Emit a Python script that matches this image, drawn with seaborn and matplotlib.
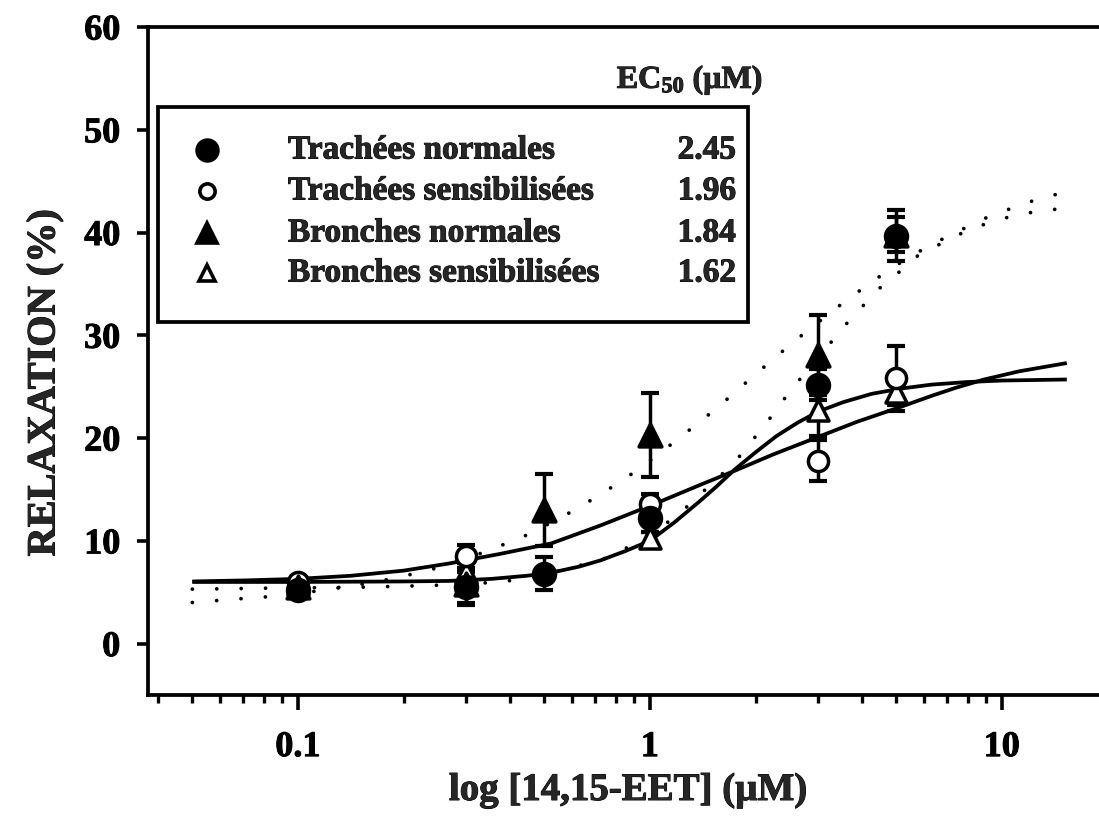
import numpy as np
import pandas as pd
import matplotlib
matplotlib.use("Agg")
import matplotlib.pyplot as plt
import matplotlib.patheffects as pe
from matplotlib.patches import Rectangle
from matplotlib.lines import Line2D
import seaborn as sns

# ---------------- data ----------------
tn_x = [0.1, 0.3, 0.5, 1, 3, 5]
tn_y = [5.2, 5.5, 6.8, 12.2, 25.2, 39.7]
tn_e = [0.4, 1.5, 1.6, 1.3, 1.5, 2.5]

ts_x = [0.1, 0.3, 1, 3, 5]
ts_y = [6.0, 8.5, 13.6, 17.8, 25.8]
ts_e = [0.4, 1.1, 1.0, 2.0, 3.2]

bn_x = [0.1, 0.3, 0.5, 1, 3, 5]
bn_y = [5.5, 5.8, 13.0, 20.3, 28.1, 39.8]
bn_e = [0.5, 2.0, 3.5, 4.1, 3.9, 1.7]

bs_x = [0.1, 0.3, 1, 3, 5]
bs_y = [5.8, 7.0, 10.3, 22.7, 24.5]
bs_e = [0.4, 0.8, 0.6, 2.5, 1.3]

# fitted curves (log10 concentration, % relaxation)
ts_fit_logx = [-1.30, -1.15, -1.00, -0.85, -0.70, -0.57, -0.43, -0.28, -0.14, 0.00, 0.07,
               0.14, 0.24, 0.35, 0.47, 0.59, 0.71, 0.80, 0.87, 0.95, 1.05, 1.185]
ts_fit_y = [6.05, 6.15, 6.3, 6.6, 7.1, 7.8, 8.7, 9.75, 11.5, 13.4, 14.4,
            15.4, 16.8, 18.4, 20.0, 21.6, 23.0, 24.1, 24.9, 25.7, 26.5, 27.3]

bs_fit_logx = [-1.30, -1.00, -0.70, -0.57, -0.45, -0.35, -0.28, -0.20, -0.14, -0.07, 0.00,
               0.07, 0.14, 0.19, 0.24, 0.30, 0.36, 0.42, 0.48, 0.55, 0.63, 0.71, 0.80,
               0.90, 1.00, 1.185]
bs_fit_y = [6.0, 6.0, 6.05, 6.1, 6.3, 6.6, 6.9, 7.5, 8.1, 9.0, 10.0,
            11.8, 13.8, 15.3, 16.9, 18.6, 20.2, 21.5, 22.6, 23.5, 24.3, 24.8, 25.2,
            25.45, 25.6, 25.7]

bn_fit_logx = [-1.30, -1.19, -1.07, -0.95, -0.85, -0.75, -0.63, -0.47, -0.36, -0.25, -0.14,
               -0.03, 0.08, 0.19, 0.30, 0.41, 0.52, 0.63, 0.74, 0.85, 0.96, 1.07, 1.185]
bn_fit_y = [4.0, 4.3, 4.6, 5.1, 5.6, 6.2, 7.1, 8.9, 10.4, 12.3, 14.5,
            17.0, 19.9, 22.9, 26.2, 29.4, 32.4, 35.2, 37.7, 39.7, 41.5, 42.9, 44.0]

tn_fit_logx = [-1.30, -1.07, -0.80, -0.58, -0.42, -0.30, -0.20, -0.14, -0.03, 0.08, 0.13,
               0.24, 0.33, 0.41, 0.46, 0.55, 0.65, 0.71, 0.76, 0.87, 0.98, 1.09, 1.185]
tn_fit_y = [5.3, 5.4, 5.5, 5.7, 6.0, 6.7, 7.6, 8.1, 9.9, 12.5, 14.1,
            17.6, 21.4, 25.1, 27.0, 30.8, 34.5, 36.2, 37.7, 39.7, 41.2, 42.0, 42.4]

labels = ["Trachées normales", "Trachées sensibilisées",
          "Bronches normales", "Bronches sensibilisées"]
ec50 = ["2.45", "1.96", "1.84", "1.62"]

# ---------------- style ----------------
sns.set_theme(style="white")
plt.rcParams["font.family"] = ["Liberation Serif", "DejaVu Serif"]
plt.rcParams["font.weight"] = "bold"
plt.rcParams["mathtext.fontset"] = "custom"
plt.rcParams["mathtext.rm"] = "Liberation Serif:bold"
plt.rcParams["mathtext.bf"] = "Liberation Serif:bold"
plt.rcParams["mathtext.default"] = "bf"

heavy = [pe.withStroke(linewidth=0.7, foreground="black")]

W, H = 1099, 819
fig = plt.figure(figsize=(W / 100, H / 100), dpi=100)
fig.patch.set_facecolor("white")
ax = fig.add_axes([148 / W, 1 - 695 / H, (W - 148) / W, (695 - 27) / H])
ax.set_facecolor("white")

def curve_df(logx, y):
    return pd.DataFrame({"x": 10 ** np.asarray(logx), "y": y})

dotted = (0, (0.01, 6.5))
for lx, ly in [(ts_fit_logx, ts_fit_y), (bs_fit_logx, bs_fit_y)]:
    sns.lineplot(data=curve_df(lx, ly), x="x", y="y", ax=ax, color="black",
                 lw=2.7, sort=False, estimator=None, zorder=3,
                 solid_joinstyle="round", solid_capstyle="butt")
for lx, ly in [(bn_fit_logx, bn_fit_y), (tn_fit_logx, tn_fit_y)]:
    sns.lineplot(data=curve_df(lx, ly), x="x", y="y", ax=ax, color="black",
                 lw=2.7, linestyle=dotted, dash_capstyle="round", sort=False,
                 estimator=None, zorder=3)

# error bars + markers (open symbols drawn first, filled ones on top)
series = [
    (bs_x, bs_y, bs_e, "^", "white", 230),
    (ts_x, ts_y, ts_e, "o", "white", 210),
    (bn_x, bn_y, bn_e, "^", "black", 270),
    (tn_x, tn_y, tn_e, "o", "black", 250),
]
for xs, ys, es, mk, fc, s in series:
    ax.errorbar(xs, ys, yerr=es, fmt="none", ecolor="black", elinewidth=2.5,
                capsize=6.5, capthick=3, zorder=2)
for i, (xs, ys, es, mk, fc, s) in enumerate(series):
    sns.scatterplot(x=xs, y=ys, ax=ax, marker=mk, s=s, facecolor=fc,
                    edgecolor="black", linewidth=2.5, zorder=5 + i)

ax.set_xscale("log")
ax.set_xlim(0.0375, 18.9)
ax.set_ylim(-5, 60)
ax.set_xticks([0.1, 1, 10])
ax.set_xticklabels(["0.1", "1", "10"])
ax.xaxis.set_minor_locator(matplotlib.ticker.LogLocator(base=10, subs=np.arange(2, 10)))
ax.xaxis.set_minor_formatter(matplotlib.ticker.NullFormatter())
ax.set_yticks([0, 10, 20, 30, 40, 50, 60])
ax.tick_params(axis="both", which="both", bottom=True, left=True, top=False, right=False)
ax.tick_params(axis="both", which="major", direction="out", width=2.6,
               color="black", labelsize=26, labelcolor="black")
ax.tick_params(axis="x", which="major", pad=15, length=11)
ax.tick_params(axis="y", which="major", pad=12, length=8)
ax.tick_params(axis="x", which="minor", direction="out", length=6, width=2.4, color="black")
ax.tick_params(axis="y", which="minor", left=False)
for lab in ax.get_xticklabels() + ax.get_yticklabels():
    lab.set_fontweight("bold")
    lab.set_path_effects(heavy)
for side in ["left", "bottom", "top"]:
    ax.spines[side].set_visible(True)
    ax.spines[side].set_color("black")
    ax.spines[side].set_linewidth(2.7)
ax.spines["right"].set_visible(False)
ax.set_xlabel("")
ax.set_ylabel("")

fig.text(628 / W, 1 - 772 / H, "log [14,15-EET] (µM)", ha="center", va="top",
         fontsize=28, fontweight="bold", path_effects=heavy)
fig.text(45 / W, 1 - 383 / H, "RELAXATION (%)", ha="center", va="center",
         rotation=90, fontsize=29, fontweight="bold", path_effects=heavy)

# legend box
fig.add_artist(Rectangle((158 / W, 1 - 322 / H), (748 - 158) / W, (322 - 107) / H,
                         transform=fig.transFigure, fill=False, edgecolor="black",
                         linewidth=2.7, zorder=6))
rows = [150, 191, 233, 273]
mks = [("o", "black", 15), ("o", "white", 11), ("^", "black", 14), ("^", "white", 11)]
for (mk, fc, ms), ry, lab, val in zip(mks, rows, labels, ec50):
    fig.add_artist(Line2D([207 / W], [1 - ry / H], marker=mk, markersize=ms,
                          markerfacecolor=fc, markeredgecolor="black",
                          markeredgewidth=2.6, linestyle="none",
                          transform=fig.transFigure, zorder=7))
    fig.text(288 / W, 1 - ry / H, lab, ha="left", va="center", fontsize=24,
             fontweight="bold", path_effects=heavy)
    fig.text(736 / W, 1 - ry / H, val, ha="right", va="center", fontsize=24,
             fontweight="bold", path_effects=heavy)

fig.text(690 / W, 1 - 80 / H, r"EC$_{50}$ (µM)", ha="center", va="center",
         fontsize=23, fontweight="bold", path_effects=heavy)

fig.savefig("out.png", dpi=100, facecolor="white")
